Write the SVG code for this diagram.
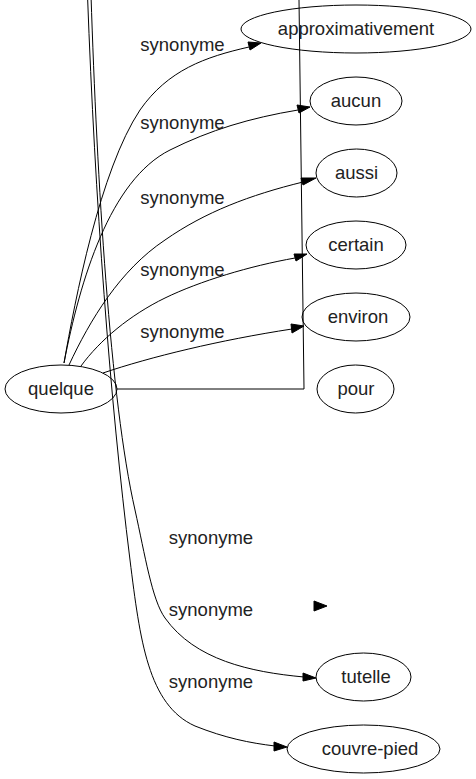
<svg xmlns="http://www.w3.org/2000/svg" width="476" height="779" viewBox="0 0 476 779">
<style>
text{font-family:"Liberation Sans",Arial,sans-serif;font-size:18.5px;fill:#222;text-anchor:middle}
.n ellipse{fill:none;stroke:#000;stroke-width:1}
.e path,.e polyline{fill:none;stroke:#000;stroke-width:1}
.e polygon{fill:#000;stroke:#000;stroke-width:1}
</style>
<rect width="476" height="779" fill="#fff"/>
<g id="edges" class="e">
<path d="M64,363 C75,300 100,170 140,110 C168,70 205,57 249,47"/>
<polygon points="248,42 261,43 250,50"/>
<path d="M64,363 C80,280 110,180 170,150 C210,130 250,118 298,110"/>
<polygon points="297,105 310,107 299,113"/>
<path d="M69,365 C90,320 120,270 165,240 C205,212 250,195 303,182"/>
<polygon points="301,178 316,178 303,185"/>
<path d="M81,366 C100,340 130,315 165,298 C200,281 250,266 295,258"/>
<polygon points="294,254 307,254 296,261"/>
<path d="M103,373 C150,357 220,340 292,329"/>
<polygon points="291,324 304,326 292,333"/>
<polyline points="117,389 304,389 299,0"/>
<path d="M91,-5 C97,180 110,400 135,510 C145,555 152,600 165,618 C195,660 250,672 304,677"/>
<polygon points="303,673 316,678 303,681"/>
<path d="M87.5,-5 C95,200 110,400 130,560 C140,640 148,705 195,726 C225,738 250,743 275,746"/>
<polygon points="274,742 287,747 274,751"/>
<polygon points="314,601 327,606 314,611"/>
<text x="182.5" y="51">synonyme</text>
<text x="182.5" y="128.6">synonyme</text>
<text x="182.5" y="204.3">synonyme</text>
<text x="182.5" y="276">synonyme</text>
<text x="182.5" y="337.6">synonyme</text>
<text x="211" y="544.3">synonyme</text>
<text x="211" y="616.3">synonyme</text>
<text x="211" y="688">synonyme</text>
</g>
<g id="quelque" class="n"><ellipse cx="61" cy="389" rx="56" ry="24"/><text x="61" y="395">quelque</text></g>
<g id="approximativement" class="n"><ellipse cx="356" cy="29" rx="115" ry="24"/><text x="356" y="35">approximativement</text></g>
<g id="aucun" class="n"><ellipse cx="356" cy="101" rx="46" ry="24"/><text x="356" y="107">aucun</text></g>
<g id="aussi" class="n"><ellipse cx="356.5" cy="173" rx="40.5" ry="24"/><text x="356.5" y="179">aussi</text></g>
<g id="certain" class="n"><ellipse cx="356" cy="245" rx="50" ry="24"/><text x="356" y="251">certain</text></g>
<g id="environ" class="n"><ellipse cx="356" cy="317" rx="54" ry="24"/><text x="358" y="323">environ</text></g>
<g id="pour" class="n"><ellipse cx="355.5" cy="389" rx="38.5" ry="24"/><text x="356" y="395">pour</text></g>
<g id="tutelle" class="n"><ellipse cx="363.5" cy="677" rx="47.5" ry="24"/><text x="366" y="683">tutelle</text></g>
<g id="couvre-pied" class="n"><ellipse cx="363.5" cy="749" rx="76.5" ry="24"/><text x="370" y="755">couvre-pied</text></g>
</svg>
